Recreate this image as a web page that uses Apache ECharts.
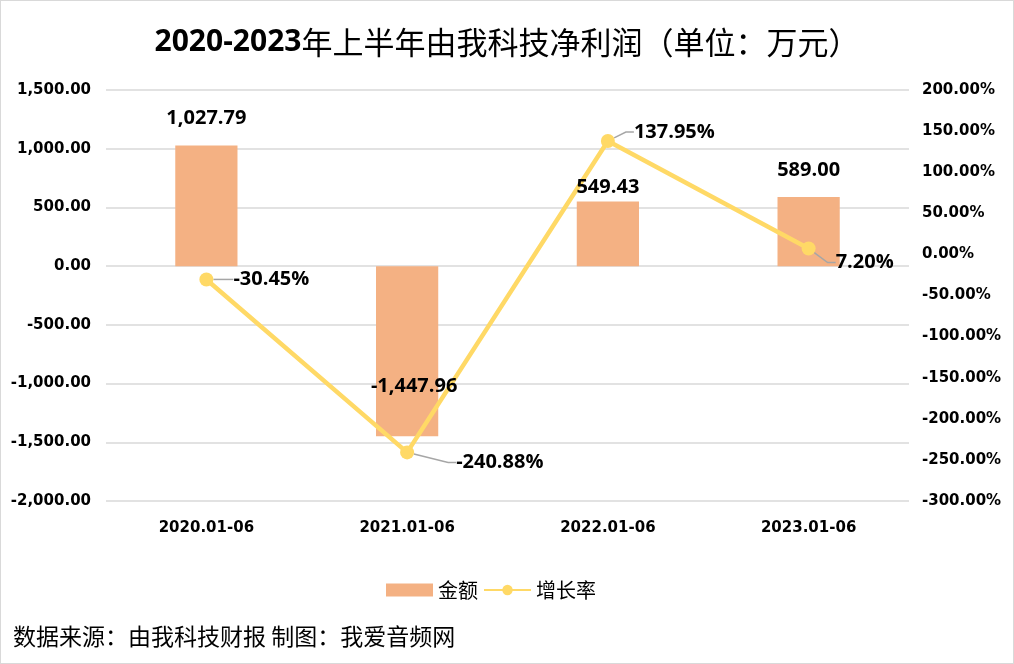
<!DOCTYPE html>
<html>
<head>
<meta charset="utf-8">
<script src="https://cdn.jsdelivr.net/npm/echarts@6/dist/echarts.min.js"></script>
<style>
html,body{margin:0;padding:0;background:#fff;}
#c{width:1014px;height:664px;box-sizing:border-box;border:1px solid #d9d9d9;}
</style>
</head>
<body>
<div id="c"></div>
<script>
var categories = ['2020.01-06', '2021.01-06', '2022.01-06', '2023.01-06'];
var amounts = [1027.79, -1447.96, 549.43, 589.00];
var growth = [-30.45, -240.88, 137.95, 7.20];
var leftTicks = { min: -2000, max: 1500, interval: 500 };
var rightTicks = { min: -300, max: 200, interval: 50 };

function fmtNum(v) {
  return Number(v).toLocaleString('en-US', { minimumFractionDigits: 2, maximumFractionDigits: 2 });
}

var barLabelCfg = [
  { position: 'top', distance: 17, offset: [0, 0] },
  { position: 'inside', offset: [7, 35] },
  { position: 'top', distance: 4, offset: [0, 0] },
  { position: 'top', distance: 17, offset: [0, 0] }
];
var lineLabelShift = [
  { dx: 15, dy: 0 },
  { dx: 37, dy: 10 },
  { dx: 14, dy: -9 },
  { dx: 15, dy: 14 }
];

var FONT = '"Open Sans", "Noto Sans CJK SC", sans-serif';
var TICK = '"DejaVu Sans", sans-serif';
var CJK = '"Noto Sans CJK SC", sans-serif';

var chart = echarts.init(document.getElementById('c'), null, { renderer: 'canvas' });
chart.setOption({
  animation: false,
  backgroundColor: '#fff',
  title: {
    left: 'center',
    top: 21,
    text: '{a|2020-2023}{b|年上半年由我科技净利润（单位：万元）}',
    textStyle: {
      rich: {
        a: { fontFamily: FONT, fontWeight: 'bold', fontSize: 30, color: '#000' },
        b: { fontFamily: CJK, fontWeight: 'normal', fontSize: 31, color: '#000' }
      }
    }
  },
  legend: {
    bottom: 58,
    left: 380,
    itemWidth: 47,
    itemHeight: 13,
    itemGap: 5,
    textStyle: { fontFamily: CJK, fontSize: 20, color: '#000' },
    data: [
      { name: '金额', icon: 'rect' },
      { name: '增长率' }
    ]
  },
  graphic: [{
    type: 'text',
    left: 12,
    top: 624,
    style: { text: '数据来源：由我科技财报 制图：我爱音频网', font: 'normal 23px "Noto Sans CJK SC", sans-serif', fill: '#000' }
  }],
  grid: { left: 105, right: 104, top: 89, bottom: 162, containLabel: false },
  xAxis: {
    type: 'category',
    data: categories,
    axisLine: { show: false },
    axisTick: { show: false },
    axisLabel: { margin: 20, fontFamily: TICK, fontWeight: 'bold', fontSize: 15, color: '#000' }
  },
  yAxis: [{
    type: 'value',
    min: leftTicks.min, max: leftTicks.max, interval: leftTicks.interval,
    axisLine: { show: false },
    axisTick: { show: false },
    splitLine: { lineStyle: { color: '#d9d9d9', width: 1.5 } },
    axisLabel: { margin: 15, fontFamily: TICK, fontWeight: 'bold', fontSize: 15, color: '#000', formatter: fmtNum }
  }, {
    type: 'value',
    min: rightTicks.min, max: rightTicks.max, interval: rightTicks.interval,
    axisLine: { show: false },
    axisTick: { show: false },
    splitLine: { show: false },
    axisLabel: { margin: 13, fontFamily: TICK, fontWeight: 'bold', fontSize: 15, color: '#000', align: 'left',
      formatter: function (v) { return v.toFixed(2) + '%'; } }
  }],
  series: [{
    name: '金额',
    type: 'bar',
    yAxisIndex: 0,
    barWidth: '31%',
    barGap: '-100%',
    itemStyle: { color: '#F4B183' },
    data: amounts,
    z: 1
  }, {
    name: '增长率',
    type: 'line',
    yAxisIndex: 1,
    data: growth,
    symbol: 'circle',
    symbolSize: 14,
    lineStyle: { color: '#FFD966', width: 4.5 },
    itemStyle: { color: '#FFD966' },
    label: {
      show: true,
      position: 'right',
      distance: 5,
      fontFamily: FONT, fontWeight: 'bold', fontSize: 20, color: '#000',
      formatter: function (p) { return p.value.toFixed(2) + '%'; }
    },
    labelLine: { show: true, length2: 8, lineStyle: { color: '#a6a6a6', width: 1.5 } },
    labelLayout: function (p) {
      var s = lineLabelShift[p.dataIndex];
      return { dx: s.dx, dy: s.dy };
    },
    z: 3
  }, {
    name: '金额标签',
    type: 'bar',
    yAxisIndex: 0,
    barWidth: '31%',
    barGap: '-100%',
    silent: true,
    itemStyle: { color: 'rgba(0,0,0,0)' },
    data: amounts.map(function (v, i) {
      var c = barLabelCfg[i];
      return { value: v, label: { position: c.position, distance: c.distance, offset: c.offset } };
    }),
    label: {
      show: true,
      fontFamily: FONT, fontWeight: 'bold', fontSize: 20, color: '#000',
      formatter: function (p) { return fmtNum(p.value); }
    },
    z: 5
  }]
});
</script>
</body>
</html>
